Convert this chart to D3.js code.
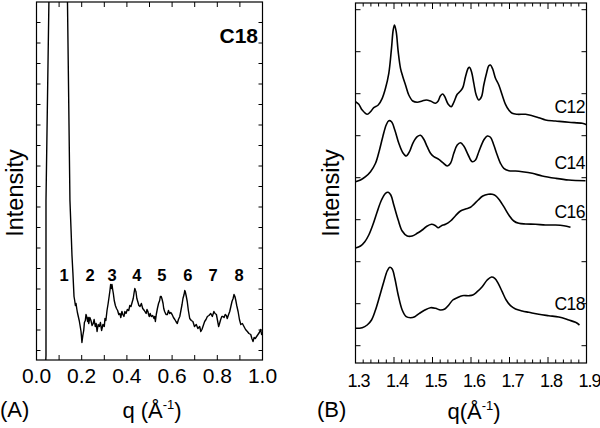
<!DOCTYPE html>
<html><head><meta charset="utf-8">
<script src="https://cdn.jsdelivr.net/npm/d3@7"></script>
<style>body{margin:0;background:#fff} svg{display:block;font-family:"Liberation Sans",Arial,Helvetica,sans-serif}</style>
</head><body><svg id="c" width="600" height="428"></svg>
<script>
// ---------- data ----------
const ticksA = [0, 0.2, 0.4, 0.6, 0.8, 1.0];
const tickLabelsA = ["0.0", "0.2", "0.4", "0.6", "0.8", "1.0"];
const ticksB = [1.3, 1.4, 1.5, 1.6, 1.7, 1.8, 1.9];
const tickLabelsB = ["1.3", "1.4", "1.5", "1.6", "1.7", "1.8", "1.9"];
const peakLabels = ["1", "2", "3", "4", "5", "6", "7", "8"];
const peakQ = [0.122, 0.237, 0.334, 0.444, 0.555, 0.670, 0.781, 0.896];
const seriesNames = ["C12", "C14", "C16", "C18"];

// Panel A: SAXS pattern of C18 (arbitrary intensity)
const dataA = [[0.040,-15],[0.042,-5],[0.042,150],[0.055,350],[0.096,1000],[0.137,350],[0.148,150],
[0.153,120],[0.157,95],[0.161,78],[0.166,54],[0.169,50],[0.172,45],[0.175,47],[0.178,42],[0.181,38],[0.185,34],[0.189,30],[0.192,26],[0.197,19],[0.199,14],[0.201,8],[0.205,15],[0.209,20],[0.212,28],[0.216,30],[0.219,36],[0.222,34],[0.226,29],[0.229,33],[0.231,27],[0.236,33],[0.241,30],[0.246,25],[0.251,27],[0.255,31],[0.260,24],[0.264,27],[0.268,19],[0.273,26],[0.278,24],[0.283,28],[0.288,20],[0.294,26],[0.300,24],[0.303,32],[0.307,30],[0.312,40],[0.317,47],[0.322,55],[0.325,60],[0.328,66],[0.331,62],[0.334,66],[0.337,61],[0.340,57],[0.344,50],[0.349,45],[0.354,42],[0.359,40],[0.364,36],[0.369,37],[0.373,33],[0.378,39],[0.382,36],[0.387,34],[0.391,39],[0.396,37],[0.402,41],[0.408,40],[0.413,45],[0.418,44],[0.423,48],[0.428,52],[0.432,58],[0.435,62],[0.438,60],[0.440,59],[0.444,52],[0.448,49],[0.453,45],[0.458,44],[0.464,47],[0.470,42],[0.477,40],[0.485,37],[0.489,41],[0.493,39],[0.496,36],[0.499,34],[0.503,37],[0.508,34],[0.514,35],[0.520,32],[0.523,34],[0.526,29],[0.530,36],[0.535,42],[0.540,47],[0.545,50],[0.548,54],[0.552,54],[0.556,51],[0.560,47],[0.563,42],[0.567,39],[0.573,36],[0.579,36],[0.584,40],[0.589,37],[0.594,38],[0.600,36],[0.606,33],[0.612,31],[0.617,29],[0.623,27],[0.628,31],[0.634,34],[0.639,40],[0.644,46],[0.648,52],[0.653,56],[0.656,60],[0.658,59],[0.662,55],[0.667,49],[0.672,40],[0.678,32],[0.685,30],[0.692,29],[0.699,24],[0.707,26],[0.714,22],[0.722,24],[0.727,19],[0.732,21],[0.738,25],[0.744,29],[0.750,31],[0.756,34],[0.763,35],[0.771,37],[0.778,34],[0.785,39],[0.790,37],[0.796,36],[0.801,30],[0.806,24],[0.810,27],[0.815,31],[0.820,34],[0.825,34],[0.830,33],[0.835,36],[0.840,35],[0.844,32],[0.850,36],[0.855,39],[0.860,44],[0.865,49],[0.870,52],[0.874,56],[0.878,54],[0.881,51],[0.886,45],[0.892,39],[0.898,31],[0.904,26],[0.911,27],[0.918,24],[0.925,21],[0.933,19],[0.940,17],[0.948,16],[0.953,12],[0.958,9],[0.963,13],[0.968,12],[0.974,14],[0.980,16],[0.986,18],[0.992,21],[0.996,16],[1.000,18]];

// Panel B: WAXS patterns (offset, arbitrary intensity)
const c12 = [[1.300,244.0],[1.3086,241.4],[1.3174,235.7],[1.3304,231.4],[1.339,234.0],[1.3475,238.0],[1.359,240.7],[1.3694,247.4],[1.3779,257.4],[1.3865,272.4],[1.3935,297.4],[1.3979,315.7],[1.4013,320.7],[1.4057,314.0],[1.4109,294.0],[1.4169,277.4],[1.4229,269.0],[1.4299,260.7],[1.4384,250.7],[1.4488,244.7],[1.4603,243.4],[1.4732,244.7],[1.4836,245.7],[1.4948,244.7],[1.5078,242.4],[1.5148,244.7],[1.5208,250.0],[1.5268,251.7],[1.5319,249.0],[1.5408,241.4],[1.5486,239.0],[1.5553,243.4],[1.5642,251.4],[1.5727,254.7],[1.5787,258.0],[1.5857,269.0],[1.5927,277.4],[1.5961,278.4],[1.6013,274.0],[1.6073,262.4],[1.6135,250.7],[1.6203,245.7],[1.6273,249.0],[1.6332,260.7],[1.6403,272.4],[1.6462,280.0],[1.6506,280.7],[1.6566,276.4],[1.6636,267.4],[1.6722,260.7],[1.6810,250.7],[1.6896,241.4],[1.6982,235.7],[1.7070,232.4],[1.7200,231.4],[1.7416,231.4],[1.7590,230.0],[1.7761,228.0],[1.7935,225.7],[1.8195,224.7],[1.8540,223.4],[1.8888,222.4],[1.9000,221.0]];
const c14 = [[1.300,164.0],[1.313,165.7],[1.326,169.0],[1.339,174.0],[1.352,182.4],[1.3623,195.7],[1.3709,209.0],[1.3797,220.7],[1.3865,225.0],[1.3935,224.0],[1.4021,215.7],[1.4125,202.4],[1.4229,193.0],[1.4317,189.7],[1.4403,194.0],[1.4488,202.4],[1.4603,209.0],[1.4688,210.4],[1.4774,206.4],[1.4862,199.0],[1.4948,192.4],[1.5034,189.0],[1.5164,186.4],[1.5268,183.0],[1.5382,179.7],[1.5468,182.4],[1.5553,192.4],[1.5642,200.7],[1.5727,203.0],[1.5813,199.7],[1.5927,190.7],[1.6031,184.0],[1.6117,185.7],[1.6203,194.0],[1.6332,205.7],[1.6421,209.7],[1.6506,208.4],[1.6592,200.7],[1.6681,190.7],[1.6766,182.4],[1.6852,177.4],[1.6982,175.0],[1.7156,174.7],[1.7330,174.0],[1.7590,172.4],[1.7849,169.7],[1.8195,167.4],[1.8540,165.7],[1.8974,165.0]];
const c16 = [[1.300,97.7],[1.313,99.7],[1.3242,104.0],[1.3345,110.7],[1.3449,120.7],[1.3564,134.0],[1.3675,145.7],[1.3779,152.4],[1.3849,153.4],[1.3917,150.7],[1.3995,140.7],[1.4109,125.7],[1.4213,114.7],[1.4343,109.7],[1.4473,109.7],[1.4603,112.4],[1.4732,115.7],[1.4836,119.0],[1.4974,121.4],[1.5078,120.0],[1.5148,118.0],[1.5234,120.0],[1.5338,121.4],[1.5468,124.7],[1.5597,130.0],[1.5727,134.7],[1.5857,136.7],[1.5987,138.4],[1.6073,141.4],[1.6187,145.7],[1.6306,149.7],[1.6447,151.4],[1.6551,151.4],[1.6636,150.0],[1.6740,145.7],[1.6852,139.0],[1.6982,130.7],[1.7112,124.7],[1.7242,122.4],[1.7416,121.7],[1.7675,121.4],[1.7935,120.7],[1.8195,120.7],[1.8410,120.0],[1.8584,118.4]];
const c18 = [[1.300,17.4],[1.3174,18.0],[1.3304,20.7],[1.3416,25.7],[1.3519,35.7],[1.3623,49.0],[1.3735,64.0],[1.3823,74.7],[1.3891,78.4],[1.3953,76.7],[1.4021,67.4],[1.4109,50.7],[1.4213,35.7],[1.4317,29.0],[1.4429,28.0],[1.4540,29.0],[1.4662,32.4],[1.4800,35.7],[1.4948,38.0],[1.5078,37.4],[1.5208,35.7],[1.5319,36.7],[1.5423,40.7],[1.5527,45.7],[1.5642,48.0],[1.5771,50.0],[1.5943,50.0],[1.6047,50.7],[1.6161,54.0],[1.6291,59.0],[1.6421,65.7],[1.6532,68.7],[1.6618,67.4],[1.6706,62.4],[1.6810,54.0],[1.6914,45.7],[1.7026,40.0],[1.7156,36.7],[1.7330,34.7],[1.7501,33.4],[1.7761,31.4],[1.8021,30.0],[1.8281,28.7],[1.8540,25.7],[1.8714,23.4],[1.8818,20.7]];
const seriesB = [c12, c14, c16, c18];

// ---------- layout ----------
const svg = d3.select("#c");
const FONT = '"Liberation Sans", Arial, Helvetica, sans-serif';

// Panel A scales
const xA = d3.scaleLinear().domain([0, 1]).range([36.5, 262.5]);
const yA = d3.scaleLinear().domain([-9.5, 348.5]).range([360, 2]);
// Panel B scales
const xB = d3.scaleLinear().domain([1.3, 1.9]).range([355.5, 586.5]);
const yB = d3.scaleLinear().domain([-17.3, 342.7]).range([363, 3]);

function frame(x0, x1, y0, y1) {
  svg.append("rect").attr("x", x0).attr("y", y0).attr("width", x1 - x0).attr("height", y1 - y0)
    .attr("fill", "none").attr("stroke", "#000").attr("stroke-width", 1.2);
}

// ---- Panel A ----
frame(xA.range()[0], xA.range()[1], yA.range()[1], yA.range()[0]);
const gA = svg.append("g");
const xTicksA = d3.range(0.1, 1.0, 0.1);
xTicksA.forEach(t => {
  const x = xA(t);
  gA.append("line").attr("x1", x).attr("x2", x).attr("y1", yA.range()[0]).attr("y2", yA.range()[0] - 5).attr("stroke", "#000");
  gA.append("line").attr("x1", x).attr("x2", x).attr("y1", yA.range()[1]).attr("y2", yA.range()[1] + 5).attr("stroke", "#000");
});
d3.range(0, 17).map(k => k * 20.5).forEach(v => {
  const y = yA(v);
  gA.append("line").attr("x1", xA.range()[0]).attr("x2", xA.range()[0] + 4).attr("y1", y).attr("y2", y).attr("stroke", "#000");
  gA.append("line").attr("x1", xA.range()[1]).attr("x2", xA.range()[1] - 4).attr("y1", y).attr("y2", y).attr("stroke", "#000");
});
ticksA.forEach((t, i) => {
  gA.append("text").attr("x", xA(t)).attr("y", 383).attr("text-anchor", "middle")
    .attr("font-size", 21).attr("font-family", FONT).text(tickLabelsA[i]);
});
svg.append("clipPath").attr("id", "clipA").append("rect")
  .attr("x", xA.range()[0]).attr("y", yA.range()[1]).attr("width", xA.range()[1] - xA.range()[0]).attr("height", yA.range()[0] - yA.range()[1]);
const lineA = d3.line().x(d => xA(d[0])).y(d => yA(d[1]));
gA.append("path").datum(dataA).attr("d", lineA).attr("fill", "none").attr("stroke", "#000")
  .attr("stroke-width", 1.4).attr("stroke-linejoin", "round").attr("clip-path", "url(#clipA)");
peakQ.forEach((q, i) => {
  gA.append("text").attr("x", xA(q)).attr("y", 281).attr("text-anchor", "middle")
    .attr("font-size", 16.5).attr("font-weight", "bold").attr("font-family", FONT).text(peakLabels[i]);
});
gA.append("text").attr("x", 258).attr("y", 43).attr("text-anchor", "end")
  .attr("font-size", 21).attr("font-weight", "bold").attr("font-family", FONT).text("C18");

// ---- Panel B ----
frame(xB.range()[0], xB.range()[1], yB.range()[1], yB.range()[0]);
const gB = svg.append("g");
d3.range(0, 31).map(k => 1.3 + k * 0.02).forEach((t, k) => {
  const x = xB(t);
  const len = (k % 5 === 0) ? 6 : 3.5;
  if (k === 0 || k === 30) return;
  gB.append("line").attr("x1", x).attr("x2", x).attr("y1", yB.range()[0]).attr("y2", yB.range()[0] - len).attr("stroke", "#000");
  gB.append("line").attr("x1", x).attr("x2", x).attr("y1", yB.range()[1]).attr("y2", yB.range()[1] + len).attr("stroke", "#000");
});
d3.range(0, 9).map(k => k * 42).forEach(v => {
  const y = yB(v);
  gB.append("line").attr("x1", xB.range()[0]).attr("x2", xB.range()[0] + 5).attr("y1", y).attr("y2", y).attr("stroke", "#000");
  gB.append("line").attr("x1", xB.range()[1]).attr("x2", xB.range()[1] - 5).attr("y1", y).attr("y2", y).attr("stroke", "#000");
});
ticksB.forEach((t, i) => {
  gB.append("text").attr("x", xB(t) + 3).attr("y", 387).attr("text-anchor", "middle")
    .attr("font-size", 18).attr("letter-spacing", "-1").attr("font-family", FONT).text(tickLabelsB[i]);
});
const lineB = d3.line().x(d => xB(d[0])).y(d => yB(d[1])).curve(d3.curveCatmullRom.alpha(0.5));
const labelOffsets = [-12, -12, -9, -15];
seriesB.forEach((s, i) => {
  gB.append("path").datum(s).attr("d", lineB).attr("fill", "none").attr("stroke", "#000")
    .attr("stroke-width", 1.6).attr("stroke-linejoin", "round");
  const last = s[s.length - 1];
  gB.append("text").attr("x", 585).attr("y", yB(last[1]) + labelOffsets[i]).attr("text-anchor", "end")
    .attr("font-size", 17.5).attr("letter-spacing", "-0.5").attr("font-family", FONT).text(seriesNames[i]);
});

// ---- axis titles & panel letters ----
function yTitle(x, y) {
  svg.append("text").attr("transform", `translate(${x},${y}) rotate(-90)`).attr("text-anchor", "middle")
    .attr("font-size", 23.5).attr("font-family", FONT).text("Intensity");
}
yTitle(23, 193);
yTitle(339, 193);
function xTitle(x, y, space) {
  const t = svg.append("text").attr("x", x).attr("y", y).attr("text-anchor", "middle")
    .attr("font-size", 22).attr("font-family", FONT);
  t.append("tspan").text(space ? "q (Å" : "q(Å");
  t.append("tspan").attr("font-size", 13).attr("dy", -9).text("-1");
  t.append("tspan").attr("dy", 9).text(")");
}
xTitle(152, 418, true);
xTitle(474, 419, false);
svg.append("text").attr("x", 0).attr("y", 417).attr("font-size", 22).attr("font-family", FONT).text("(A)");
svg.append("text").attr("x", 317).attr("y", 417).attr("font-size", 22).attr("font-family", FONT).text("(B)");
</script></body></html>
